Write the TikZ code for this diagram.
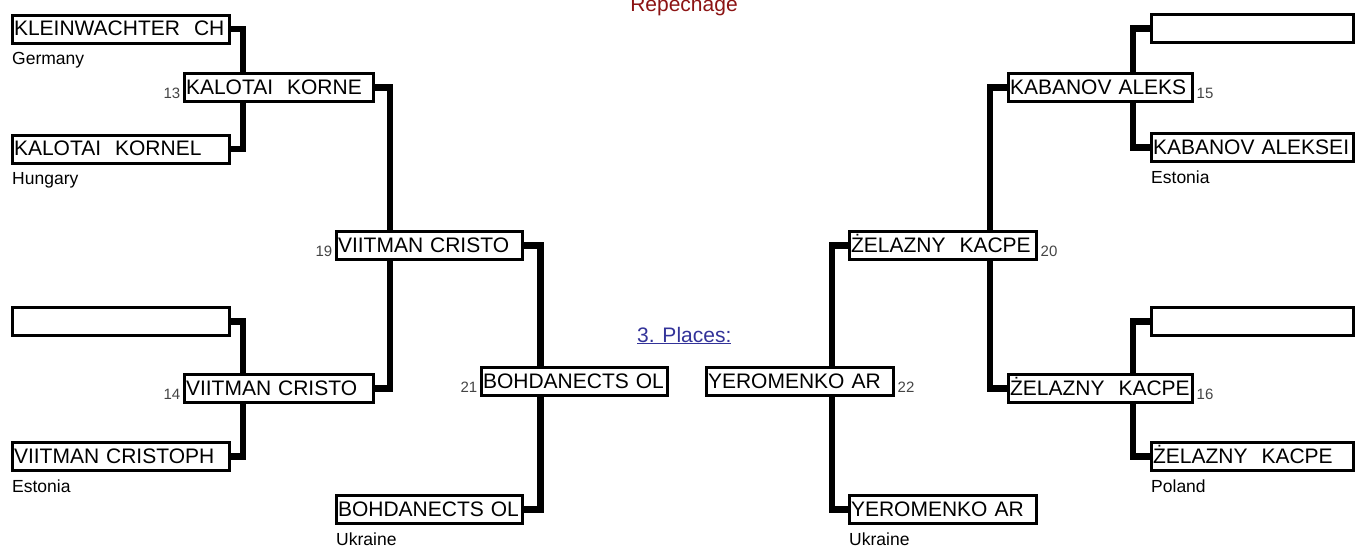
\documentclass[tikz,border=0pt]{standalone}
\usepackage{fontspec}
\setmainfont{Liberation Sans}
\usetikzlibrary{backgrounds}
\definecolor{numgray}{RGB}{68,68,68}
\definecolor{repred}{RGB}{140,20,20}
\definecolor{placeblue}{RGB}{51,51,153}
\tikzset{
        box/.style={draw, line width=3pt, fill=white, anchor=north west, inner xsep=2pt, inner ysep=0pt,
                minimum height=28pt, text height=16pt, text depth=3pt, align=left, text width=#1,
                font=\fontsize{21}{25}\selectfont},
        country/.style={anchor=base west, inner sep=0pt, font=\fontsize{17.5}{20}\selectfont},
        nr/.style={inner sep=0pt, text=numgray, font=\fontsize{15}{18}\selectfont},
        link/.style={line width=6.5pt}
}
\begin{document}
\begin{tikzpicture}[x=1pt, y=-1pt]
        \useasboundingbox (0,0) rectangle (1362,547);

        \node[anchor=base, text=repred, font=\fontsize{21}{25}\selectfont] (rep) at (684,11.5) {Repechage};
        \node[anchor=base west, inner sep=0pt, text=placeblue, font=\fontsize{21}{25}\selectfont] (pl) at (637,342) {\underline{3. Places:}};

        \node[box=213pt] (1) at (10.5,13.5) {KLEINWACHTER~~CH};
        \node[box=213pt] (2) at (10.5,133.5) {KALOTAI~~KORNEL};
        \node[box=213pt] (3) at (10.5,306) {};
        \node[box=213pt] (4) at (10.5,441) {VIITMAN CRISTOPH};
        \node[box=185pt] (13) at (182.5,72) {KALOTAI~~KORNE};
        \node[box=185pt] (14) at (182.5,373) {VIITMAN CRISTO};
        \node[box=182pt] (19) at (334.5,230) {VIITMAN CRISTO};
        \node[box=182pt] (21) at (479.5,366) {BOHDANECTS OL};
        \node[box=182pt] (5) at (334.5,494) {BOHDANECTS OL};

        \node[box=198pt] (6) at (1149.5,13) {};
        \node[box=198pt] (7) at (1149.5,132) {KABANOV ALEKSEI};
        \node[box=198pt] (8) at (1149.5,306) {};
        \node[box=198pt] (9) at (1149.5,441) {ŻELAZNY~~KACPE};
        \node[box=180pt] (15) at (1006.5,72) {KABANOV ALEKS};
        \node[box=180pt] (16) at (1006.5,373) {ŻELAZNY~~KACPE};
        \node[box=183pt] (20) at (847.5,230) {ŻELAZNY~~KACPE};
        \node[box=183pt] (22) at (704.5,366) {YEROMENKO AR};
        \node[box=183pt] (10) at (847.5,494) {YEROMENKO AR};

        \node[nr, anchor=base east] (n13) at ([shift={(-2,-4.5)}]13.south west) {13};
        \node[nr, anchor=base east] (n14) at ([shift={(-2,-4.5)}]14.south west) {14};
        \node[nr, anchor=base east] (n19) at ([shift={(-2,-4.5)}]19.south west) {19};
        \node[nr, anchor=base east] (n21) at ([shift={(-2,-4.5)}]21.south west) {21};
        \node[nr, anchor=base west] (n15) at ([shift={(3,-4.5)}]15.south east) {15};
        \node[nr, anchor=base west] (n16) at ([shift={(3,-4.5)}]16.south east) {16};
        \node[nr, anchor=base west] (n20) at ([shift={(3,-4.5)}]20.south east) {20};
        \node[nr, anchor=base west] (n22) at ([shift={(3,-4.5)}]22.south east) {22};

        \node[country] (c1) at ([shift={(1.5,20)}]1.south west) {Germany};
        \node[country] (c2) at ([shift={(1.5,20)}]2.south west) {Hungary};
        \node[country] (c4) at ([shift={(1.5,20)}]4.south west) {Estonia};
        \node[country] (c5) at ([shift={(1.5,20.5)}]5.south west) {Ukraine};
        \node[country] (c7) at ([shift={(1.5,20)}]7.south west) {Estonia};
        \node[country] (c9) at ([shift={(1.5,20)}]9.south west) {Poland};
        \node[country] (c10) at ([shift={(1.5,20.5)}]10.south west) {Ukraine};

        \begin{scope}[on background layer]
        \draw[link] (1.east) -| ([xshift=60.5pt]13.north west);
        \draw[link] ([xshift=60.5pt]13.south west) |- (2.east);
        \draw[link] (3.east) -| ([xshift=60.5pt]14.north west);
        \draw[link] ([xshift=60.5pt]14.south west) |- (4.east);
        \draw[link] (13.east) -- ++(15.5,0) |- (14.east);
        \draw[link] (19.east) -- ++(17,0) |- (5.east);
        \draw[link] (6.west) -| ([xshift=126.5pt]15.north west);
        \draw[link] ([xshift=126.5pt]15.south west) |- (7.west);
        \draw[link] (8.west) -| ([xshift=126.5pt]16.north west);
        \draw[link] ([xshift=126.5pt]16.south west) |- (9.west);
        \draw[link] (15.west) -- ++(-16.5,0) |- (16.west);
        \draw[link] (20.west) -- ++(-15.5,0) |- (10.west);
        \end{scope}
\end{tikzpicture}
\end{document}
